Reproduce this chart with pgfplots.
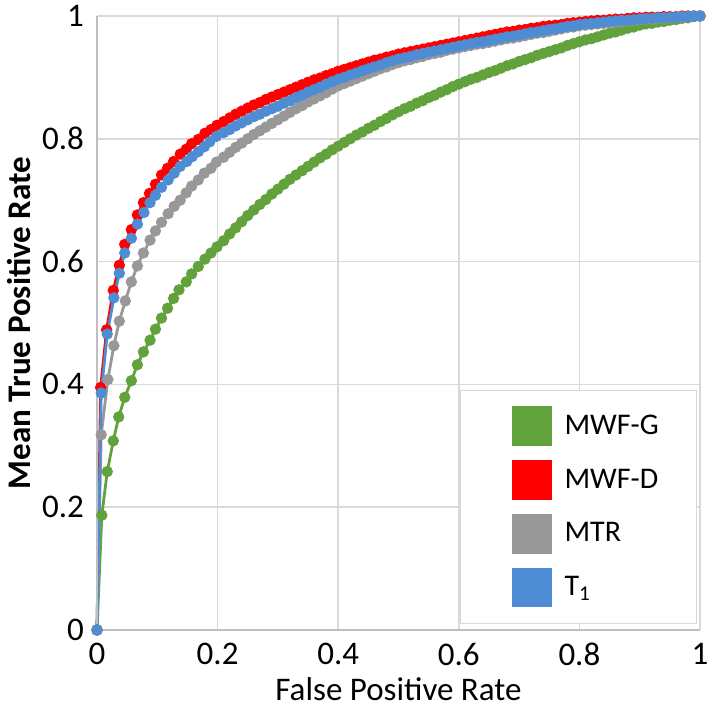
\documentclass[border=0pt]{standalone}
\usepackage{fontspec}
\setmainfont{Carlito}
\usepackage{pgfplots}
\pgfplotsset{compat=1.18}
\usepackage{pgfplotstable}
\definecolor{cG}{HTML}{62A23C}
\definecolor{cR}{HTML}{FF0000}
\definecolor{cM}{HTML}{989898}
\definecolor{cB}{HTML}{4E8DD3}
\definecolor{gridc}{HTML}{D9D9D9}
\definecolor{axc}{HTML}{BFBFBF}

\pgfplotstableread{
x y
0 0
0.008 0.187
0.017 0.258
0.027 0.308
0.036 0.347
0.046 0.379
0.057 0.406
0.067 0.432
0.077 0.453
0.088 0.472
0.097 0.490
0.107 0.508
0.117 0.524
0.127 0.540
0.136 0.554
0.148 0.567
0.157 0.580
0.168 0.592
0.179 0.604
0.189 0.614
0.199 0.624
0.21 0.634
0.22 0.645
0.23 0.655
0.24 0.665
0.25 0.675
0.26 0.684
0.27 0.693
0.28 0.701
0.29 0.710
0.30 0.718
0.31 0.726
0.32 0.734
0.33 0.741
0.34 0.748
0.35 0.755
0.36 0.762
0.37 0.769
0.38 0.775
0.39 0.782
0.40 0.788
0.41 0.794
0.42 0.800
0.43 0.806
0.44 0.811
0.45 0.817
0.46 0.822
0.47 0.828
0.48 0.833
0.49 0.839
0.50 0.844
0.51 0.849
0.52 0.853
0.53 0.858
0.54 0.862
0.55 0.867
0.56 0.871
0.57 0.876
0.58 0.880
0.59 0.885
0.60 0.889
0.61 0.893
0.62 0.897
0.63 0.900
0.64 0.904
0.65 0.908
0.66 0.911
0.67 0.915
0.68 0.919
0.69 0.922
0.70 0.926
0.71 0.929
0.72 0.932
0.73 0.936
0.74 0.939
0.75 0.942
0.76 0.945
0.77 0.948
0.78 0.952
0.79 0.955
0.80 0.958
0.81 0.961
0.82 0.963
0.83 0.966
0.84 0.969
0.85 0.972
0.86 0.974
0.87 0.977
0.88 0.980
0.89 0.982
0.90 0.985
0.91 0.987
0.92 0.988
0.93 0.990
0.94 0.991
0.95 0.993
0.96 0.994
0.97 0.996
0.98 0.997
0.99 0.999
1.00 1.000
}\mwfg

\pgfplotstableread{
x y
0 0
0.006 0.395
0.016 0.489
0.027 0.553
0.037 0.594
0.046 0.628
0.057 0.652
0.067 0.676
0.077 0.696
0.087 0.711
0.097 0.726
0.107 0.741
0.117 0.752
0.127 0.763
0.138 0.775
0.148 0.783
0.157 0.792
0.168 0.799
0.179 0.809
0.189 0.815
0.199 0.822
0.21 0.828
0.22 0.834
0.23 0.840
0.24 0.845
0.25 0.850
0.26 0.855
0.27 0.859
0.28 0.864
0.29 0.868
0.30 0.872
0.31 0.876
0.32 0.880
0.33 0.884
0.34 0.888
0.35 0.892
0.36 0.896
0.37 0.899
0.38 0.903
0.39 0.906
0.40 0.910
0.41 0.913
0.42 0.916
0.43 0.919
0.44 0.922
0.45 0.925
0.46 0.928
0.47 0.930
0.48 0.933
0.49 0.935
0.50 0.938
0.51 0.940
0.52 0.942
0.53 0.944
0.54 0.946
0.55 0.948
0.56 0.950
0.57 0.952
0.58 0.954
0.59 0.956
0.60 0.958
0.61 0.960
0.62 0.962
0.63 0.964
0.64 0.966
0.65 0.968
0.66 0.970
0.67 0.972
0.68 0.974
0.69 0.975
0.70 0.977
0.71 0.978
0.72 0.980
0.73 0.981
0.74 0.983
0.75 0.984
0.76 0.985
0.77 0.986
0.78 0.988
0.79 0.989
0.80 0.990
0.81 0.991
0.82 0.992
0.83 0.993
0.84 0.993
0.85 0.994
0.86 0.995
0.87 0.995
0.88 0.996
0.89 0.997
0.90 0.997
0.91 0.998
0.92 0.998
0.93 0.998
0.94 0.999
0.95 0.999
0.96 0.999
0.97 1.000
0.98 1.000
0.99 1.000
1.00 1.000
}\mwfd

\pgfplotstableread{
x y
0 0
0.007 0.318
0.018 0.408
0.028 0.463
0.037 0.503
0.047 0.536
0.057 0.567
0.067 0.593
0.077 0.614
0.088 0.635
0.097 0.650
0.107 0.664
0.118 0.678
0.128 0.690
0.138 0.700
0.148 0.712
0.157 0.723
0.168 0.733
0.178 0.744
0.189 0.752
0.198 0.762
0.21 0.770
0.22 0.778
0.23 0.786
0.24 0.793
0.25 0.800
0.26 0.807
0.27 0.813
0.28 0.819
0.29 0.825
0.30 0.831
0.31 0.837
0.32 0.843
0.33 0.849
0.34 0.854
0.35 0.860
0.36 0.865
0.37 0.870
0.38 0.875
0.39 0.881
0.40 0.886
0.41 0.890
0.42 0.894
0.43 0.898
0.44 0.902
0.45 0.906
0.46 0.910
0.47 0.914
0.48 0.917
0.49 0.921
0.50 0.924
0.51 0.927
0.52 0.929
0.53 0.932
0.54 0.934
0.55 0.937
0.56 0.939
0.57 0.941
0.58 0.944
0.59 0.946
0.60 0.948
0.61 0.950
0.62 0.952
0.63 0.954
0.64 0.955
0.65 0.957
0.66 0.959
0.67 0.961
0.68 0.963
0.69 0.964
0.70 0.966
0.71 0.968
0.72 0.970
0.73 0.972
0.74 0.973
0.75 0.975
0.76 0.977
0.77 0.979
0.78 0.981
0.79 0.982
0.80 0.984
0.81 0.985
0.82 0.986
0.83 0.987
0.84 0.988
0.85 0.989
0.86 0.990
0.87 0.991
0.88 0.992
0.89 0.993
0.90 0.994
0.91 0.995
0.92 0.995
0.93 0.996
0.94 0.997
0.95 0.997
0.96 0.998
0.97 0.998
0.98 0.999
0.99 1.000
1.00 1.000
}\mtr

\pgfplotstableread{
x y
0 0
0.007 0.386
0.017 0.482
0.028 0.541
0.037 0.581
0.046 0.614
0.057 0.638
0.067 0.661
0.078 0.680
0.088 0.696
0.097 0.708
0.107 0.721
0.118 0.733
0.128 0.744
0.138 0.755
0.149 0.763
0.158 0.771
0.168 0.779
0.178 0.787
0.187 0.795
0.198 0.804
0.21 0.810
0.22 0.815
0.23 0.821
0.24 0.826
0.25 0.831
0.26 0.836
0.27 0.840
0.28 0.845
0.29 0.849
0.30 0.853
0.31 0.858
0.32 0.862
0.33 0.867
0.34 0.871
0.35 0.876
0.36 0.880
0.37 0.884
0.38 0.889
0.39 0.893
0.40 0.897
0.41 0.900
0.42 0.904
0.43 0.907
0.44 0.911
0.45 0.914
0.46 0.917
0.47 0.920
0.48 0.924
0.49 0.927
0.50 0.930
0.51 0.932
0.52 0.934
0.53 0.937
0.54 0.939
0.55 0.941
0.56 0.943
0.57 0.945
0.58 0.947
0.59 0.949
0.60 0.951
0.61 0.953
0.62 0.955
0.63 0.957
0.64 0.958
0.65 0.960
0.66 0.962
0.67 0.964
0.68 0.966
0.69 0.967
0.70 0.969
0.71 0.971
0.72 0.973
0.73 0.974
0.74 0.976
0.75 0.978
0.76 0.979
0.77 0.981
0.78 0.983
0.79 0.984
0.80 0.986
0.81 0.987
0.82 0.988
0.83 0.989
0.84 0.990
0.85 0.991
0.86 0.992
0.87 0.993
0.88 0.993
0.89 0.994
0.90 0.995
0.91 0.996
0.92 0.996
0.93 0.997
0.94 0.997
0.95 0.998
0.96 0.998
0.97 0.999
0.98 0.999
0.99 1.000
1.00 1.000
}\tone

\begin{document}
\begin{tikzpicture}
\begin{axis}[
  scale only axis,
  width=301.5pt, height=307pt,
  xmin=0, xmax=1, ymin=0, ymax=1,
  xtick={0,0.2,...,1}, ytick={0,0.2,...,1},
  xticklabels={0,0.2,0.4,0.6,0.8,1},
  yticklabels={0,0.2,0.4,0.6,0.8,1},
  major tick length=0pt,
  grid=major,
  major grid style={gridc, line width=0.8pt},
  axis line style={draw=none},
  axis x line*=bottom, axis y line*=left,
  /pgf/number format/assume math mode=true,
  tick label style={font=\fontsize{16.5}{19}\selectfont, black},
  xticklabel style={yshift=-3pt},
  yticklabel style={xshift=-3pt},
  xlabel={False Positive Rate},
  ylabel={\bfseries Mean True Positive Rate},
  label style={font=\fontsize{16.5}{19}\selectfont},
  xlabel style={yshift=1pt},
  ylabel style={yshift=-1pt},
  clip=false,
  legend style={at={(0.995,0.01)}, anchor=south east, draw=gridc, fill=white,
    font=\fontsize{15}{18}\selectfont, inner xsep=6.5pt, inner ysep=8pt,
    row sep=7pt, text width=57.5pt,
    /tikz/every odd column/.append style={column sep=4.5pt}},
  legend cell align=left,
  every axis plot/.append style={line width=1.4pt, mark=*, mark size=2.1pt},
]
\addplot[cG, mark options={fill=cG, draw=cG},
  legend image code/.code={\path (0pt,0pt); \fill[cG] (19pt,-9.25pt) rectangle (37.5pt,9.25pt);}] table[x=x,y=y] {\mwfg};
\addlegendentry{MWF-G}
\addplot[cR, mark options={fill=cR, draw=cR},
  legend image code/.code={\path (0pt,0pt); \fill[cR] (19pt,-9.25pt) rectangle (37.5pt,9.25pt);}] table[x=x,y=y] {\mwfd};
\addlegendentry{MWF-D}
\addplot[cM, mark options={fill=cM, draw=cM},
  legend image code/.code={\path (0pt,0pt); \fill[cM] (19pt,-9.25pt) rectangle (37.5pt,9.25pt);}] table[x=x,y=y] {\mtr};
\addlegendentry{MTR}
\addplot[cB, mark options={fill=cB, draw=cB},
  legend image code/.code={\path (0pt,0pt); \fill[cB] (19pt,-9.25pt) rectangle (37.5pt,9.25pt);}] table[x=x,y=y] {\tone};
\addlegendentry{T\textsubscript{1}}
\draw[axc, line width=0.8pt] (rel axis cs:0,1) -- (rel axis cs:0,0) -- (rel axis cs:1,0);
\end{axis}
\pgfresetboundingbox
\path (-48.5pt,-40pt) rectangle (306pt,315pt);
\end{tikzpicture}
\end{document}
